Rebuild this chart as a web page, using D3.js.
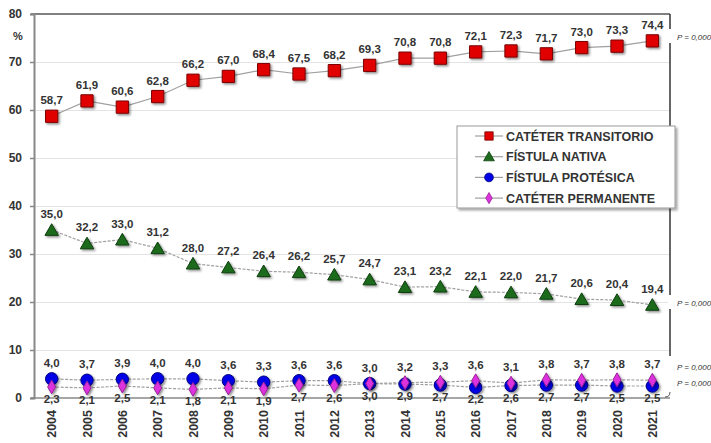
<!DOCTYPE html>
<html>
<head>
<meta charset="utf-8">
<script src="https://cdn.jsdelivr.net/npm/d3@7/dist/d3.min.js"></script>
<style>
  html, body { margin: 0; padding: 0; background: #fff; }
  svg { display: block; font-family: "Liberation Sans", Arial, sans-serif; }
</style>
</head>
<body>
<svg id="chart" width="711" height="443"></svg>
<script>
// Years on the horizontal axis
const years = ["2004","2005","2006","2007","2008","2009","2010","2011","2012",
               "2013","2014","2015","2016","2017","2018","2019","2020","2021"];

// Percentage of patients by vascular access type
const cateterTransitorio = [58.7,61.9,60.6,62.8,66.2,67.0,68.4,67.5,68.2,69.3,70.8,70.8,72.1,72.3,71.7,73.0,73.3,74.4];
const fistulaNativa      = [35.0,32.2,33.0,31.2,28.0,27.2,26.4,26.2,25.7,24.7,23.1,23.2,22.1,22.0,21.7,20.6,20.4,19.4];
const fistulaProtesica   = [4.0,3.7,3.9,4.0,4.0,3.6,3.3,3.6,3.6,3.0,2.9,2.7,2.2,2.6,2.7,2.7,2.5,2.5];
const cateterPermanente  = [2.3,2.1,2.5,2.1,1.8,2.1,1.9,2.7,2.6,3.0,3.2,3.3,3.6,3.1,3.8,3.7,3.8,3.7];

const yTicks = [0,10,20,30,40,50,60,70,80];
const legendNames = ["CATÉTER TRANSITORIO","FÍSTULA NATIVA","FÍSTULA PROTÉSICA","CATÉTER PERMANENTE"];
const pLabels = ["P = 0,000","P = 0,000","P = 0,000","P = 0,000"];

const svg = d3.select("#chart");
const plotLeft = 34, plotRight = 670, plotTop = 14, plotBottom = 398;

const x = d3.scaleBand().domain(years).range([plotLeft, plotRight]).paddingInner(0).paddingOuter(0);
const cx = d => x(d) + x.bandwidth() / 2;
const y = d3.scaleLinear().domain([0, 80]).range([plotBottom, plotTop]);

const fmt = v => v.toFixed(1).replace(".", ",");

// Drop shadow for markers and legend box
const defs = svg.append("defs");
const sh = defs.append("filter").attr("id", "shadow").attr("x", "-50%").attr("y", "-50%").attr("width", "200%").attr("height", "200%");
sh.append("feDropShadow").attr("dx", 1.5).attr("dy", 1.5).attr("stdDeviation", 0.8)
  .attr("flood-color", "#000").attr("flood-opacity", 0.45);
const shBox = defs.append("filter").attr("id", "boxshadow").attr("x", "-10%").attr("y", "-10%").attr("width", "120%").attr("height", "130%");
shBox.append("feDropShadow").attr("dx", 2).attr("dy", 2).attr("stdDeviation", 1.2)
  .attr("flood-color", "#000").attr("flood-opacity", 0.35);

// Horizontal gridlines
svg.append("g")
  .attr("transform", `translate(${plotLeft},0)`)
  .call(d3.axisLeft(y).tickValues(yTicks.filter(t => t > 0 && t < 80)).tickSize(-(plotRight - plotLeft)).tickFormat(""))
  .call(g => g.select(".domain").remove())
  .call(g => g.selectAll(".tick line").attr("stroke", "#e4e4e4").attr("stroke-width", 1));

// Frame: top border, right border, baseline
svg.append("line").attr("x1", plotLeft - 3).attr("x2", plotRight).attr("y1", plotTop).attr("y2", plotTop)
  .attr("stroke", "#808080").attr("stroke-width", 2);
svg.append("line").attr("x1", plotRight).attr("x2", plotRight).attr("y1", plotTop).attr("y2", 356)
  .attr("stroke", "#333").attr("stroke-width", 1.5);
svg.append("line").attr("x1", plotLeft - 3).attr("x2", plotRight).attr("y1", plotBottom).attr("y2", plotBottom)
  .attr("stroke", "#888").attr("stroke-width", 1.5);

// Y axis with labels
const yAxis = svg.append("g")
  .attr("transform", `translate(${plotLeft},0)`)
  .call(d3.axisLeft(y).tickValues(yTicks).tickSize(4).tickPadding(8).tickFormat(d3.format("d")));
yAxis.select(".domain").attr("stroke", "#888").attr("stroke-width", 2);
yAxis.selectAll(".tick line").attr("stroke", "#888").attr("stroke-width", 1.5);
yAxis.selectAll(".tick text").attr("font-size", 12).attr("font-weight", "bold").attr("fill", "#333")
  .attr("font-family", "Liberation Sans, Arial, sans-serif");

svg.append("text").attr("x", 18).attr("y", 40).attr("text-anchor", "middle")
  .attr("font-size", 11).attr("font-weight", "bold").attr("fill", "#333").text("%");

// X axis: rotated year labels
svg.append("g").selectAll("text").data(years).join("text")
  .attr("transform", d => `translate(${cx(d)},410) rotate(-90)`)
  .attr("text-anchor", "end").attr("dy", "0.36em")
  .attr("font-size", 12.5).attr("font-weight", "bold").attr("fill", "#333")
  .text(d => d);

// Series definitions
const series = [
  { name: legendNames[0], values: cateterTransitorio, shape: "square", fill: "#e00000", stroke: "#7a0000", dash: null },
  { name: legendNames[1], values: fistulaNativa, shape: "triangle", fill: "#1e6b1e", stroke: "#0b3d0b", dash: "3,1.5" },
  { name: legendNames[2], values: fistulaProtesica, shape: "circle", fill: "#0000e6", stroke: "#000080", dash: "3,1.5" },
  { name: legendNames[3], values: cateterPermanente, shape: "diamond", fill: "#dd33dd", stroke: "#992299", dash: "3,1.5" }
];

const symbolType = { square: d3.symbolSquare, triangle: d3.symbolTriangle, circle: d3.symbolCircle, diamond: d3.symbolDiamond };
const plotSize = { square: 150, triangle: 78, circle: 120, diamond: 55 };
const legendSize = { square: 70, triangle: 50, circle: 60, diamond: 36 };

const line = d3.line().x((v, i) => cx(years[i])).y(v => y(v));

// Connecting lines
series.forEach(s => {
  svg.append("path").datum(s.values).attr("d", line)
    .attr("fill", "none").attr("stroke", "#a0a0a0").attr("stroke-width", 1.2)
    .attr("stroke-dasharray", s.dash);
});

// Markers
series.forEach(s => {
  svg.append("g").selectAll("path").data(s.values).join("path")
    .attr("transform", (v, i) => `translate(${cx(years[i])},${y(v) + (s.shape === "triangle" ? 1.5 : 0)})`)
    .attr("d", d3.symbol().type(symbolType[s.shape]).size(plotSize[s.shape]))
    .attr("fill", s.fill).attr("stroke", s.stroke).attr("stroke-width", 1)
    .attr("filter", "url(#shadow)");
});

// Value labels
const labelG = svg.append("g").attr("font-size", 11.5).attr("font-weight", "bold").attr("fill", "#333").attr("text-anchor", "middle");
function addLabels(values, placeAbove) {
  labelG.append("g").selectAll("text").data(values).join("text")
    .attr("x", (v, i) => cx(years[i]))
    .attr("y", (v, i) => placeAbove(i) ? y(v) - 12 : y(v) + 16)
    .text(v => fmt(v));
}
addLabels(cateterTransitorio, () => true);
addLabels(fistulaNativa, () => true);
addLabels(fistulaProtesica, i => fistulaProtesica[i] >= cateterPermanente[i]);
addLabels(cateterPermanente, i => cateterPermanente[i] > fistulaProtesica[i]);

// Significance labels at the right edge
const pY = [37, 303, 367, 383];
const pG = svg.append("g");
pLabels.forEach((t, k) => {
  pG.append("rect").attr("x", plotRight - 2).attr("y", pY[k] - 8).attr("width", 4).attr("height", 14).attr("fill", "#fff");
  pG.append("text").attr("x", 677).attr("y", pY[k]).attr("dy", "0.35em")
    .attr("font-size", 8).attr("font-style", "italic").attr("fill", "#333").text(t);
});
// short end piece of the right border at the baseline
svg.append("path").attr("d", `M${plotRight - 5},${plotBottom - 1} Q${plotRight},${plotBottom - 1} ${plotRight},${plotBottom - 6}`)
  .attr("fill", "none").attr("stroke", "#555").attr("stroke-width", 1);

// Legend
const lg = svg.append("g").attr("transform", "translate(457,126)");
lg.append("rect").attr("width", 218).attr("height", 82).attr("fill", "#fff")
  .attr("stroke", "#999").attr("stroke-width", 1).attr("filter", "url(#boxshadow)");
series.forEach((s, k) => {
  const ly = 10 + k * 20.7;
  const row = lg.append("g").attr("transform", `translate(0,${ly})`);
  row.append("line").attr("x1", 18).attr("x2", 46).attr("y1", 0).attr("y2", 0)
    .attr("stroke", "#a0a0a0").attr("stroke-width", 1.2);
  row.append("path").attr("transform", `translate(32,${s.shape === "triangle" ? 1 : 0})`)
    .attr("d", d3.symbol().type(symbolType[s.shape]).size(legendSize[s.shape]))
    .attr("fill", s.fill).attr("stroke", s.stroke).attr("stroke-width", 0.8);
  row.append("text").attr("x", 49).attr("y", 0).attr("dy", "0.36em")
    .attr("font-size", 12.5).attr("font-weight", "bold").attr("fill", "#333").text(s.name);
});
</script>
</body>
</html>
